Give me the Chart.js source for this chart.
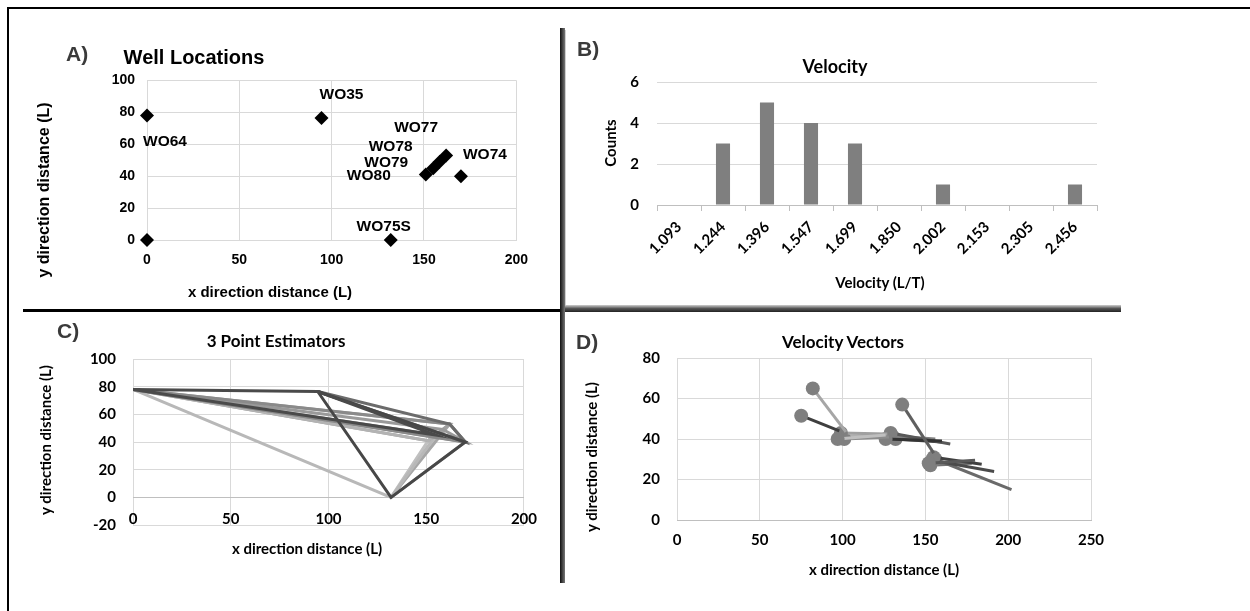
<!DOCTYPE html>
<html>
<head>
<meta charset="utf-8">
<script src="https://cdn.jsdelivr.net/npm/chart.js@4.4.0/dist/chart.umd.min.js"></script>
<style>
  body { margin: 0; background: #fff; }
  #page { position: relative; width: 1250px; height: 611px; overflow: hidden; background: #fff; }
  canvas { position: absolute; }
  .line { position: absolute; }
  .txt { position: absolute; white-space: nowrap; font-weight: bold; color: #000; transform: translate(-50%, -50%); line-height: 1; }
  .rot { transform: translate(-50%, -50%) rotate(-90deg); }
  .arial { font-family: "Liberation Sans", Arial, sans-serif; }
  .cal { font-family: Lato, "Open Sans", sans-serif; }
  .letter { position: absolute; font-family: "Liberation Sans", Arial, sans-serif; font-weight: bold; font-size: 21px; color: #3a3a3a; line-height: 1; }
</style>
</head>
<body>
<div id="page">
  <!-- frame and panel dividers -->
  <div class="line" style="left:7px;top:7px;width:1243px;height:2px;background:#000"></div>
  <div class="line" style="left:7px;top:7px;width:2px;height:604px;background:#000"></div>
  <div class="line" style="left:23px;top:309px;width:538px;height:3px;background:#000"></div>
  <div class="line" style="left:560px;top:28px;width:5px;height:555px;background:linear-gradient(to right,#111,#444,#777)"></div>
  <div class="line" style="left:565px;top:30px;width:1px;height:275px;background:#d0d0d0"></div>
  <div class="line" style="left:565px;top:305px;width:556px;height:7px;background:linear-gradient(to bottom,#cfcfcf,#555,#222)"></div>

  <canvas id="chartA" width="520" height="250" style="left:20px;top:60px"></canvas>
  <canvas id="chartB" width="550" height="265" style="left:570px;top:40px"></canvas>
  <canvas id="chartC" width="530" height="260" style="left:20px;top:320px"></canvas>
  <canvas id="chartD" width="550" height="270" style="left:570px;top:320px"></canvas>

  <!-- panel letters, titles and axis titles -->
  <div class="letter" style="left:66px;top:43px">A)</div>
  <div class="letter" style="left:577px;top:38px">B)</div>
  <div class="letter" style="left:57px;top:320px">C)</div>
  <div class="letter" style="left:576px;top:331px">D)</div>

  <div class="txt arial" style="left:194px;top:57px;font-size:20px">Well Locations</div>
  <div class="txt arial" style="left:270px;top:291px;font-size:15px">x direction distance (L)</div>
  <div class="txt arial rot" style="left:44px;top:190px;font-size:16px">y direction distance (L)</div>

  <div class="txt cal" style="left:835px;top:66px;font-size:18px">Velocity</div>
  <div class="txt cal" style="left:880px;top:282px;font-size:15px">Velocity (L/T)</div>
  <div class="txt cal rot" style="left:610px;top:143px;font-size:15px">Counts</div>

  <div class="txt cal" style="left:276px;top:340px;font-size:17px">3 Point Estimators</div>
  <div class="txt cal" style="left:307px;top:548px;font-size:15px">x direction distance (L)</div>
  <div class="txt cal rot" style="left:45px;top:440px;font-size:15px">y direction distance (L)</div>

  <div class="txt cal" style="left:843px;top:341px;font-size:17px">Velocity Vectors</div>
  <div class="txt cal" style="left:884px;top:569px;font-size:15px">x direction distance (L)</div>
  <div class="txt cal rot" style="left:591px;top:457px;font-size:15px">y direction distance (L)</div>
</div>

<script>
// panel A: well locations
const wellNames = ['WO64', '', 'WO35', 'WO75S', 'WO74', 'WO80', 'WO79', 'WO78', 'WO77'];
const wellX = [0, 0, 94.5, 132, 170, 151, 155, 158.5, 162];
const wellY = [78, 0, 76.5, 0, 40, 41, 45, 49, 53];

// panel B: velocity histogram
const velocityBins = ['1.093', '1.244', '1.396', '1.547', '1.699', '1.850', '2.002', '2.153', '2.305', '2.456'];
const velocityCounts = [0, 3, 5, 4, 3, 0, 1, 0, 0, 1];

// panel C: wells used by each 3 point estimator
const triangles = [
  ['WO64', 'WO35', 'WO79'],
  ['WO35', 'WO75S', 'WO74'],
  ['WO35', 'WO77', 'WO74'],
  ['WO64', 'WO77', 'WO74'],
  ['WO64', 'WO78', 'WO74'],
  ['WO64', 'WO79', 'WO80'],
  ['WO64', 'WO80', 'WO77'],
  ['WO64', 'WO75S', 'WO79'],
  ['WO75S', 'WO77', 'WO74'],
  ['WO75S', 'WO78', 'WO80']
];

// panel D: velocity vectors (start point -> end point)
const vecStartX = [82, 75, 97, 99, 101, 98.5, 136, 126, 129, 132, 130, 152, 155, 154, 156, 153];
const vecStartY = [65, 51.5, 40, 43, 40, 41.5, 57, 40, 43, 40, 41.5, 28, 31, 29.5, 30, 27];
const vecEndX = [102, 98, 126, 127, 128, 124, 155, 160, 165, 160, 156, 180, 184, 191.5, 202, 178];
const vecEndY = [43.5, 44, 42, 42.5, 41, 41.5, 33, 39, 37.5, 38.5, 40, 29.5, 27.5, 24, 15, 28];

// styles
const triColors = ['#4a4a4a', '#474747', '#6b6b6b', '#8a8a8a', '#9a9a9a', '#b3b3b3', '#a0a0a0', '#b8b8b8', '#a6a6a6', '#c0c0c0'];
const vecColors = ['#a6a6a6', '#3f3f3f', '#bfbfbf', '#a0a0a0', '#8c8c8c', '#b0b0b0', '#5f5f5f', '#333333',
                   '#595959', '#454545', '#808080', '#595959', '#404040', '#4a4a4a', '#6a6a6a', '#737373'];
const gridColor = '#d9d9d9';
const arialTicks = { family: 'Liberation Sans', size: 14, weight: 'bold' };
const calTicks = { family: 'Lato', size: 15, weight: 'bold' };
const labelOffsets = { WO64: [18, 26], WO35: [20, -23], WO75S: [-7, -13], WO74: [24, -21],
                       WO80: [-57, 1.5], WO79: [-47, -5], WO78: [-49, -15], WO77: [-30, -28] };

const common = {
  responsive: false,
  animation: false,
  plugins: { legend: { display: false }, tooltip: { enabled: false } }
};

// draws the well name next to each diamond
const wellLabels = {
  id: 'wellLabels',
  afterDatasetsDraw(chart) {
    const ctx = chart.ctx;
    const pts = chart.getDatasetMeta(0).data;
    ctx.save();
    ctx.font = 'bold 15.5px "Liberation Sans"';
    ctx.fillStyle = '#000';
    ctx.textAlign = 'center';
    ctx.textBaseline = 'middle';
    wellNames.forEach(function (n, i) {
      if (!n) return;
      const o = labelOffsets[n];
      ctx.fillText(n, pts[i].x + o[0], pts[i].y + o[1]);
    });
    ctx.restore();
  }
};

new Chart(document.getElementById('chartA'), {
  type: 'scatter',
  data: {
    datasets: [{
      data: wellX.map((x, i) => ({ x: x, y: wellY[i] })),
      pointStyle: 'rectRot', pointRadius: 7, clip: false,
      backgroundColor: '#000', borderColor: '#000', borderWidth: 0
    }]
  },
  options: Object.assign({}, common, {
    layout: { padding: { top: 20, right: 18, bottom: 0, left: 0 } },
    scales: {
      x: { min: 0, max: 200, ticks: { stepSize: 50, padding: 12, font: arialTicks, color: '#000' },
           grid: { color: gridColor, drawTicks: false }, border: { color: gridColor },
           afterFit: s => { s.height = 70; } },
      y: { min: 0, max: 100, ticks: { stepSize: 20, padding: 12, font: arialTicks, color: '#000' },
           grid: { color: gridColor, drawTicks: false }, border: { display: false },
           afterFit: s => { s.width = 127; } }
    }
  }),
  plugins: [wellLabels]
});

new Chart(document.getElementById('chartB'), {
  type: 'bar',
  data: {
    labels: velocityBins,
    datasets: [{ data: velocityCounts, backgroundColor: '#7f7f7f', barPercentage: 0.32, categoryPercentage: 1 }]
  },
  options: Object.assign({}, common, {
    layout: { padding: { top: 42, right: 23, bottom: 0, left: 0 } },
    scales: {
      x: { ticks: { minRotation: 45, maxRotation: 45, autoSkip: false, padding: 7, font: calTicks, color: '#000' },
           grid: { drawOnChartArea: false, tickLength: 6, color: '#bfbfbf' }, border: { color: '#bfbfbf' },
           afterFit: s => { s.height = 100; } },
      y: { min: 0, max: 6, ticks: { stepSize: 2, padding: 18, font: calTicks, color: '#000' },
           grid: { color: gridColor, drawTicks: false }, border: { display: false },
           afterFit: s => { s.width = 87; } }
    }
  })
});

const wellIndex = n => wellNames.indexOf(n);
new Chart(document.getElementById('chartC'), {
  type: 'scatter',
  data: {
    datasets: triangles.map((t, i) => ({
      data: t.concat([t[0]]).map(n => ({ x: wellX[wellIndex(n)], y: wellY[wellIndex(n)] })),
      showLine: true, borderColor: triColors[i], borderWidth: 3, pointRadius: 0
    }))
  },
  options: Object.assign({}, common, {
    layout: { padding: { top: 39, right: 23, bottom: 55, left: 0 } },
    scales: {
      x: { min: 0, max: 200, position: { y: 0 }, ticks: { stepSize: 50, padding: 13, font: calTicks, color: '#000' },
           grid: { color: gridColor, drawTicks: false }, border: { color: '#bfbfbf' } },
      y: { min: -20, max: 100, ticks: { stepSize: 20, padding: 17, font: calTicks, color: '#000' },
           grid: { color: gridColor, drawTicks: false }, border: { display: false },
           afterFit: s => { s.width = 113; } }
    }
  })
});

new Chart(document.getElementById('chartD'), {
  type: 'scatter',
  data: {
    datasets: vecStartX.map((x, i) => ({
      data: [{ x: x, y: vecStartY[i] }, { x: vecEndX[i], y: vecEndY[i] }],
      showLine: true, borderColor: vecColors[i], borderWidth: 3,
      pointRadius: [7, 0], pointBackgroundColor: '#7f7f7f', pointBorderWidth: 0
    }))
  },
  options: Object.assign({}, common, {
    layout: { padding: { top: 38, right: 29, bottom: 0, left: 0 } },
    scales: {
      x: { min: 0, max: 250, ticks: { stepSize: 50, padding: 11, font: calTicks, color: '#000' },
           grid: { color: gridColor, drawTicks: false }, border: { color: '#bfbfbf' },
           afterFit: s => { s.height = 70; } },
      y: { min: 0, max: 80, ticks: { stepSize: 20, padding: 17, font: calTicks, color: '#000' },
           grid: { color: gridColor, drawTicks: false }, border: { display: false },
           afterFit: s => { s.width = 107; } }
    }
  })
});
</script>
</body>
</html>
